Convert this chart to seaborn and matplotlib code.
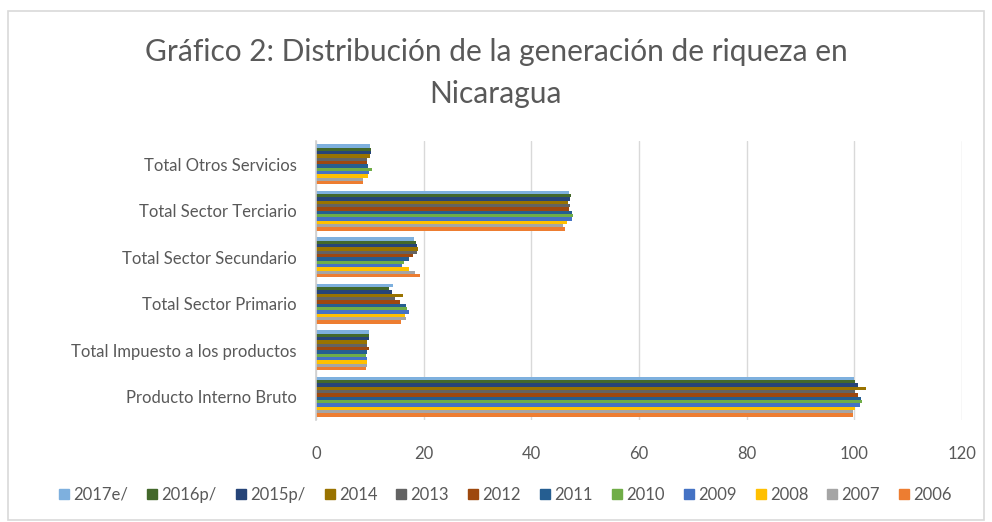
import pandas as pd
import numpy as np
import matplotlib
matplotlib.use('Agg')
import matplotlib.pyplot as plt
from matplotlib.patches import Rectangle
from matplotlib.lines import Line2D
import seaborn as sns

categories = ['Total Otros Servicios', 'Total Sector Terciario', 'Total Sector Secundario',
              'Total Sector Primario', 'Total Impuesto a los productos', 'Producto Interno Bruto']
years = ['2017e/', '2016p/', '2015p/', '2014', '2013', '2012', '2011', '2010', '2009', '2008', '2007', '2006']

# values per year, in the order of categories above
v2017e = [10.0, 47.0, 18.2, 14.3, 9.9, 100.0]
v2016p = [10.2, 47.4, 18.5, 13.6, 9.9, 100.2]
v2015p = [10.3, 47.2, 18.8, 14.2, 9.8, 100.7]
v2014 = [10.1, 46.9, 19.0, 16.1, 9.4, 102.2]
v2013 = [9.5, 47.2, 18.7, 14.6, 9.4, 100.2]
v2012 = [9.5, 47.0, 18.1, 15.6, 9.8, 100.6]
v2011 = [9.6, 47.6, 17.2, 16.7, 9.4, 101.2]
v2010 = [10.4, 47.7, 16.4, 16.9, 9.2, 101.4]
v2009 = [9.9, 47.6, 16.0, 17.2, 9.5, 101.0]
v2008 = [9.6, 46.7, 17.2, 16.6, 9.5, 100.1]
v2007 = [8.8, 45.9, 18.4, 16.7, 9.5, 99.8]
v2006 = [8.8, 46.3, 19.3, 15.7, 9.3, 99.8]

colors = ['#7EB0DE', '#43682B', '#264478', '#997300', '#636363', '#9E480E',
          '#255E91', '#70AD47', '#4472C4', '#FFC000', '#A5A5A5', '#ED7D31']

series = [v2017e, v2016p, v2015p, v2014, v2013, v2012, v2011, v2010, v2009, v2008, v2007, v2006]
rows = []
for y, vals in zip(years, series):
    for c, v in zip(categories, vals):
        rows.append({'categoria': c, 'anio': y, 'valor': v})
df = pd.DataFrame(rows)

sns.set_style('white')
plt.rcParams['font.family'] = ['Lato', 'DejaVu Sans']
txt = '#595959'

fig = plt.figure(figsize=(9.92, 5.22), dpi=100)
ax = fig.add_axes([316 / 992, 1 - 420 / 522, (962 - 316) / 992, (420 - 141) / 522])

sns.barplot(data=df, y='categoria', x='valor', hue='anio', order=categories,
            hue_order=years, palette=colors, orient='h', width=0.86,
            saturation=1, linewidth=0, legend=False, ax=ax)

ax.set_xlim(0, 120)
ax.set_xticks(np.arange(0, 121, 20))
ax.xaxis.grid(True, color='#D9D9D9', linewidth=1)
ax.set_axisbelow(True)
for s in ['top', 'right', 'bottom']:
    ax.spines[s].set_visible(False)
ax.spines['left'].set_color('#D0D0D0')
ax.spines['left'].set_linewidth(1.2)
ax.set_xlabel('')
ax.set_ylabel('')
ax.tick_params(axis='both', length=0, labelsize=12, labelcolor=txt)
ax.tick_params(axis='y', pad=14)
ax.tick_params(axis='x', pad=19)

fig.text(0.5, 1 - 73 / 522, 'Gráfico 2: Distribución de la generación de riqueza en\nNicaragua',
         ha='center', va='center', fontsize=21.5, color=txt, linespacing=1.6)

handles = [Line2D([], [], marker='s', linestyle='none', markersize=7.5,
                  markerfacecolor=c, markeredgecolor=c) for c in colors]
fig.legend(handles, years, loc='center', bbox_to_anchor=(0.508, 1 - 495 / 522), ncol=12,
           frameon=False, fontsize=12, labelcolor=txt, handletextpad=0.05,
           columnspacing=0.95, handlelength=1.0)

fig.patches.append(Rectangle((8 / 992, 2 / 522), 976 / 992, 509 / 522, transform=fig.transFigure,
                             fill=False, edgecolor='#D9D9D9', linewidth=1.2))

fig.savefig('out.png', dpi=100)
